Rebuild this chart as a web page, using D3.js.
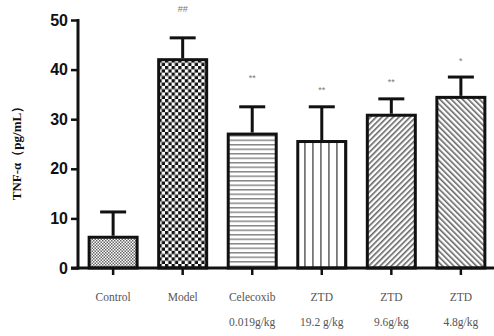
<!DOCTYPE html>
<html>
<head>
<meta charset="utf-8">
<script src="https://cdn.jsdelivr.net/npm/d3@7"></script>
<style>
  body { margin: 0; background: #fff; }
  .tick-label { font-family: "Liberation Sans", Arial, sans-serif; font-weight: bold; font-size: 16px; fill: #111; }
  .cat-label { font-family: "Liberation Serif", "Times New Roman", serif; font-size: 11.5px; fill: #555; }
  .axis-title { font-family: "Liberation Serif", "Times New Roman", serif; font-weight: bold; font-size: 13px; fill: #111; }
  .sig { font-family: "Liberation Sans", Arial, sans-serif; font-size: 9px; fill: #777; }
</style>
</head>
<body>
<div id="chart"></div>
<script>
// groups and values
const groups = ['Control', 'Model', 'Celecoxib', 'ZTD19.2', 'ZTD9.6', 'ZTD4.8'];
const labelLine1 = ['Control', 'Model', 'Celecoxib', 'ZTD', 'ZTD', 'ZTD'];
const labelLine2 = ['', '', '0.019g/kg', '19.2 g/kg', '9.6g/kg', '4.8g/kg'];
const means = [6.2, 42.0, 27.0, 25.5, 30.8, 34.4];
const errTop = [11.3, 46.4, 32.5, 32.5, 34.1, 38.5];
const sigMarks = ['', '##', '**', '**', '**', '*'];
const sigLevel = [0, 52.2, 38.3, 36.0, 37.6, 41.7];
const yTicks = [0, 10, 20, 30, 40, 50];
const patterns = ['fine', 'check', 'hlines', 'vlines', 'diagR', 'diagL'];

const width = 494, height = 336;
const margin = {top: 20, right: 0, bottom: 68, left: 78};

const svg = d3.select('#chart').append('svg')
    .attr('width', width)
    .attr('height', height);

// fill patterns
const defs = svg.append('defs');

let p = defs.append('pattern').attr('id', 'fine')
    .attr('patternUnits', 'userSpaceOnUse').attr('width', 3).attr('height', 3);
p.append('rect').attr('width', 3).attr('height', 3).attr('fill', '#fff');
p.append('rect').attr('width', 1.5).attr('height', 1.5).attr('fill', '#666');
p.append('rect').attr('x', 1.5).attr('y', 1.5).attr('width', 1.5).attr('height', 1.5).attr('fill', '#666');

p = defs.append('pattern').attr('id', 'check')
    .attr('patternUnits', 'userSpaceOnUse').attr('width', 6.6).attr('height', 6.6);
p.append('rect').attr('width', 6.6).attr('height', 6.6).attr('fill', '#fff');
p.append('rect').attr('width', 3.3).attr('height', 3.3).attr('fill', '#111');
p.append('rect').attr('x', 3.3).attr('y', 3.3).attr('width', 3.3).attr('height', 3.3).attr('fill', '#111');

p = defs.append('pattern').attr('id', 'hlines')
    .attr('patternUnits', 'userSpaceOnUse').attr('width', 4.5).attr('height', 4.5);
p.append('rect').attr('width', 4.5).attr('height', 4.5).attr('fill', '#fff');
p.append('rect').attr('y', 0).attr('width', 4.5).attr('height', 1.5).attr('fill', '#888');

p = defs.append('pattern').attr('id', 'vlines')
    .attr('patternUnits', 'userSpaceOnUse').attr('width', 8).attr('height', 8);
p.append('rect').attr('width', 8).attr('height', 8).attr('fill', '#fff');
p.append('rect').attr('x', 0).attr('width', 1.8).attr('height', 8).attr('fill', '#777');

p = defs.append('pattern').attr('id', 'diagR')
    .attr('patternUnits', 'userSpaceOnUse').attr('width', 4).attr('height', 4)
    .attr('patternTransform', 'rotate(45)');
p.append('rect').attr('width', 4).attr('height', 4).attr('fill', '#fff');
p.append('rect').attr('width', 1.6).attr('height', 4).attr('fill', '#666');

p = defs.append('pattern').attr('id', 'diagL')
    .attr('patternUnits', 'userSpaceOnUse').attr('width', 4).attr('height', 4)
    .attr('patternTransform', 'rotate(-45)');
p.append('rect').attr('width', 4).attr('height', 4).attr('fill', '#fff');
p.append('rect').attr('width', 1.6).attr('height', 4).attr('fill', '#666');

const xScale = d3.scaleBand()
    .domain(groups)
    .range([margin.left, 496])
    .paddingInner(0.31)
    .paddingOuter(0.16);

const yScale = d3.scaleLinear()
    .domain([0, 50])
    .range([height - margin.bottom, margin.top]);

const chart = svg.append('g');

// bars
chart.selectAll('.bar')
    .data(groups)
    .join('rect')
    .attr('class', 'bar')
    .attr('x', d => xScale(d))
    .attr('y', (d, i) => yScale(means[i]))
    .attr('width', xScale.bandwidth())
    .attr('height', (d, i) => yScale(0) - yScale(means[i]))
    .attr('fill', (d, i) => `url(#${patterns[i]})`)
    .attr('stroke', '#111')
    .attr('stroke-width', 3);

// error bars
const capW = 26;
chart.selectAll('.err')
    .data(groups)
    .join('line')
    .attr('class', 'err')
    .attr('x1', d => xScale(d) + xScale.bandwidth() / 2)
    .attr('x2', d => xScale(d) + xScale.bandwidth() / 2)
    .attr('y1', (d, i) => yScale(means[i]) - 1.5)
    .attr('y2', (d, i) => yScale(errTop[i]))
    .attr('stroke', '#111')
    .attr('stroke-width', 3);

chart.selectAll('.cap')
    .data(groups)
    .join('line')
    .attr('class', 'cap')
    .attr('x1', d => xScale(d) + xScale.bandwidth() / 2 - capW / 2)
    .attr('x2', d => xScale(d) + xScale.bandwidth() / 2 + capW / 2)
    .attr('y1', (d, i) => yScale(errTop[i]))
    .attr('y2', (d, i) => yScale(errTop[i]))
    .attr('stroke', '#111')
    .attr('stroke-width', 3);

// significance marks
chart.selectAll('.sig')
    .data(groups)
    .join('text')
    .attr('class', 'sig')
    .attr('x', d => xScale(d) + xScale.bandwidth() / 2)
    .attr('y', (d, i) => yScale(sigLevel[i]))
    .attr('dy', '0.35em')
    .attr('text-anchor', 'middle')
    .text((d, i) => sigMarks[i]);

// y axis
const yAxis = d3.axisLeft(yScale)
    .tickValues(yTicks)
    .tickSize(7)
    .tickPadding(3)
    .tickSizeOuter(0);

const yAxisG = svg.append('g')
    .attr('transform', `translate(${margin.left},0)`)
    .call(yAxis);
yAxisG.select('.domain').attr('stroke', '#111').attr('stroke-width', 3)
    .attr('d', `M0,${yScale(50) - 1}V${yScale(0) + 1.5}`);
yAxisG.selectAll('.tick line').attr('stroke', '#111').attr('stroke-width', 2.5);
yAxisG.selectAll('.tick text').attr('class', 'tick-label');

// x axis
const xAxis = d3.axisBottom(xScale)
    .tickSize(7)
    .tickSizeOuter(0)
    .tickFormat('');

const xAxisG = svg.append('g')
    .attr('transform', `translate(0,${yScale(0)})`)
    .call(xAxis);
xAxisG.select('.domain').attr('stroke', '#111').attr('stroke-width', 3)
    .attr('d', `M${margin.left - 7},0H${width}`);
xAxisG.selectAll('.tick line').attr('stroke', '#111').attr('stroke-width', 2.5);

// category labels
svg.selectAll('.cat1')
    .data(groups)
    .join('text')
    .attr('class', 'cat-label cat1')
    .attr('x', d => xScale(d) + xScale.bandwidth() / 2)
    .attr('y', 301)
    .attr('text-anchor', 'middle')
    .text((d, i) => labelLine1[i]);

svg.selectAll('.cat2')
    .data(groups)
    .join('text')
    .attr('class', 'cat-label cat2')
    .attr('x', d => xScale(d) + xScale.bandwidth() / 2)
    .attr('y', 326)
    .attr('text-anchor', 'middle')
    .text((d, i) => labelLine2[i]);

// y axis title
svg.append('text')
    .attr('class', 'axis-title')
    .attr('transform', `translate(21,${(yScale(0) + yScale(50)) / 2 + 6}) rotate(-90)`)
    .attr('text-anchor', 'middle')
    .text('TNF-α（pg/mL）');
</script>
</body>
</html>
